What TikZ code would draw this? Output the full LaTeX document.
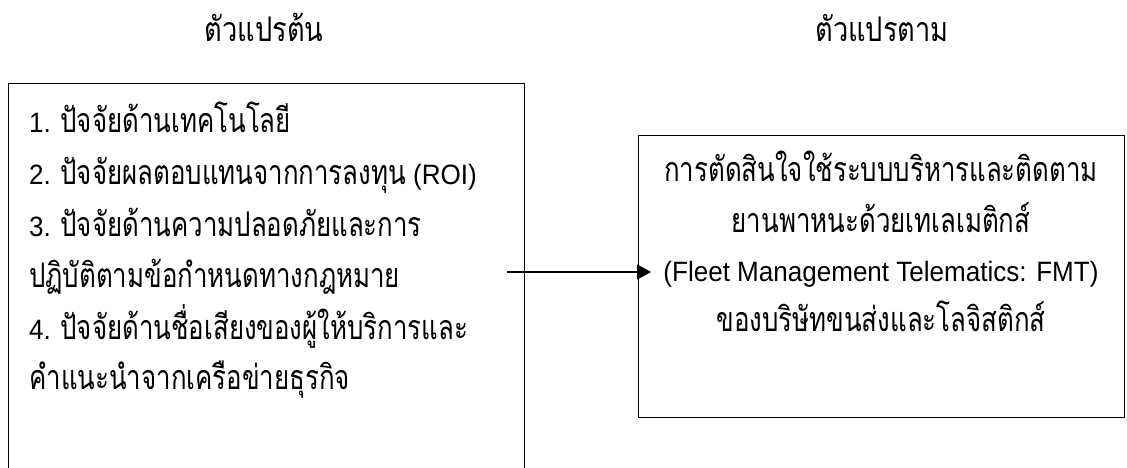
\documentclass[tikz,border=0pt]{standalone}
\usepackage{fontspec}
\setmainfont{Liberation Sans}[FakeStretch=0.93]
\newfontfamily\thaifont[Script=Thai, FakeStretch=0.76]{Loma}
\newfontfamily\thaihead[Script=Thai, FakeStretch=0.8]{Loma}
\newcommand{\thtext}[1]{{\fontsize{34}{40}\selectfont\thaifont #1}}
\usetikzlibrary{arrows.meta}
\tikzset{
  box/.style={draw, line width=1.2pt, rectangle, inner sep=0pt, anchor=north west},
  lline/.style={inner sep=0pt, anchor=base west, font=\fontsize{28}{30}\selectfont},
  rline/.style={inner sep=0pt, anchor=base, font=\fontsize{28}{30}\selectfont},
  head/.style={inner sep=0pt, anchor=base, font=\fontsize{34}{40}\selectfont\thaihead},
  conn/.style={line width=1.2pt, -{Triangle[length=14pt,width=15pt]}}
}
\begin{document}
\begin{tikzpicture}[x=1pt,y=-1pt]
\useasboundingbox (0,0) rectangle (1127,468);
\clip (0,0) rectangle (1127,468);
\node[head] (hl) at (264,42) {ตัวแปรต้น};
\node[head] (hr) at (882,42) {ตัวแปรตาม};
\node[box, minimum width=516pt, minimum height=460pt] (lbox) at (8,83) {};
\node[box, minimum width=486pt, minimum height=282pt] (rbox) at (638,135) {};
\node[lline] (l1) at (29,132) {1. \thtext{ปัจจัยด้านเทคโนโลยี}};
\node[lline] (l2) at (29,184) {2. \thtext{ปัจจัยผลตอบแทนจากการลงทุน} (ROI)};
\node[lline] (l3) at (29,236) {3. \thtext{ปัจจัยด้านความปลอดภัยและการ}};
\node[lline] (l4) at (29,287) {\thtext{ปฏิบัติตามข้อกำหนดทางกฎหมาย}};
\node[lline] (l5) at (29,339) {4. \thtext{ปัจจัยด้านชื่อเสียงของผู้ให้บริการและ}};
\node[lline] (l6) at (29,389) {\thtext{คำแนะนำจากเครือข่ายธุรกิจ}};
\node[rline] (r1) at (881,182) {\thtext{การตัดสินใจใช้ระบบบริหารและติดตาม}};
\node[rline] (r2) at (881,232) {\thtext{ยานพาหนะด้วยเทเลเมติกส์}};
\node[rline] (r3) at (881,281) {(Fleet Management Telematics: FMT)};
\node[rline] (r4) at (881,331) {\thtext{ของบริษัทขนส่งและโลจิสติกส์}};
\coordinate (s) at (507,272);
\draw[conn] (s) -- ([xshift=13pt]rbox.west |- s);
\end{tikzpicture}
\end{document}
